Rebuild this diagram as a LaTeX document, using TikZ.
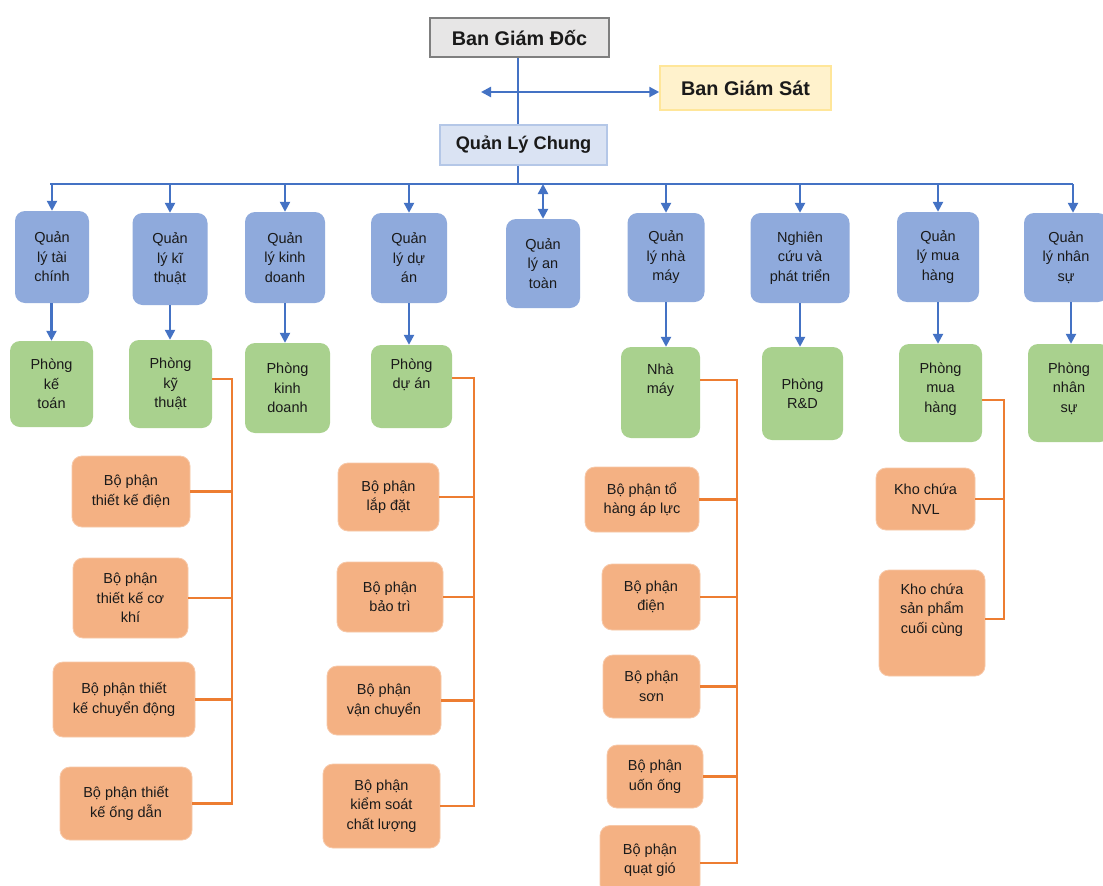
\documentclass[tikz,border=0pt]{standalone}
\usepackage{fontspec}
\setmainfont{Liberation Sans}
\usetikzlibrary{arrows.meta}
\definecolor{bluebox}{HTML}{8FAADC}
\definecolor{greenbox}{HTML}{A9D18E}
\definecolor{orangebox}{HTML}{F4B183}
\definecolor{blueline}{HTML}{4472C4}
\definecolor{orangeline}{HTML}{ED7D31}
\definecolor{txt}{HTML}{1A1A1A}
\definecolor{grayfill}{HTML}{E7E6E6}
\definecolor{grayedge}{HTML}{7F7F7F}
\definecolor{yellowfill}{HTML}{FFF2CC}
\definecolor{yellowedge}{HTML}{FFE699}
\definecolor{lbluefill}{HTML}{DAE3F3}
\definecolor{lblueedge}{HTML}{B4C7E7}
\tikzset{
  box/.style={rounded corners=10pt, align=center, inner sep=2pt, text=txt,
    font=\fontsize{14.5}{19.5}\selectfont},
  bb/.style={box, fill=bluebox},
  gb/.style={box, fill=greenbox},
  ob/.style={box, fill=orangebox, draw=orangebox!70!white, line width=0.8pt},
  topbox/.style={align=center, inner sep=2pt, text=txt, line width=1.5pt,
    font=\fontsize{19.8}{22}\selectfont\bfseries},
  bline/.style={draw=blueline, line width=2.3pt},
  barr/.style={bline, -{Triangle[length=10pt,width=10pt]}},
  bdarr/.style={bline, {Triangle[length=10pt,width=10pt]}-{Triangle[length=10pt,width=10pt]}},
  oline/.style={draw=orangeline, line width=2.3pt},
}
\begin{document}
\begin{tikzpicture}[x=1pt,y=-1pt]
\useasboundingbox[fill=white] (0,0) rectangle (1103,886);

% top
\node[topbox, fill=grayfill, draw=grayedge, minimum width=179pt, minimum height=39pt] (bgd) at (519.5,37.5) {Ban Giám Đốc};
\node[topbox, fill=yellowfill, draw=yellowedge, minimum width=171pt, minimum height=44pt] (bgs) at (745.5,88) {Ban Giám Sát};
\node[topbox, fill=lbluefill, draw=lblueedge, minimum width=167pt, minimum height=40pt, font=\fontsize{18.2}{22}\selectfont\bfseries] (qlc) at (523.5,145) {Quản Lý Chung};
\coordinate (gsL) at (481,92);
\coordinate (busL) at (50,184);
\coordinate (busR) at (1073,184);
\coordinate (busM) at (518,184);

% blue boxes
\node[bb, minimum width=74pt, minimum height=92pt] (b1) at (52,257) {Quản\\lý tài\\chính};
\node[bb, minimum width=75pt, minimum height=92pt] (b2) at (170,259) {Quản\\lý kĩ\\thuật};
\node[bb, minimum width=80pt, minimum height=91pt] (b3) at (285,257.5) {Quản\\lý kinh\\doanh};
\node[bb, minimum width=76pt, minimum height=90pt] (b4) at (409,258) {Quản\\lý dự\\án};
\node[bb, minimum width=74pt, minimum height=89pt] (b5) at (543,263.5) {Quản\\lý an\\toàn};
\node[bb, minimum width=77pt, minimum height=89pt] (b6) at (666,257.5) {Quản\\lý nhà\\máy};
\node[bb, minimum width=99pt, minimum height=90pt] (b7) at (800,258) {Nghiên\\cứu và\\phát triển};
\node[bb, minimum width=82pt, minimum height=90pt] (b8) at (938,257) {Quản\\lý mua\\hàng};
\node[bb, minimum width=84pt, minimum height=89pt] (b9) at (1066,257.5) {Quản\\lý nhân\\sự};

% green boxes
\node[gb, minimum width=83pt, minimum height=86pt] (g1) at (51.5,384) {Phòng\\kế\\toán};
\node[gb, minimum width=83pt, minimum height=88pt] (g2) at (170.5,384) {Phòng\\kỹ\\thuật};
\node[gb, minimum width=85pt, minimum height=90pt] (g3) at (287.5,388) {Phòng\\kinh\\doanh};
\node[gb, minimum width=81pt, minimum height=83pt] (g4) at (411.5,386.5) {Phòng\\dự án\\[6pt]};
\node[gb, minimum width=79pt, minimum height=91pt] (g5) at (660.5,392.5) {Nhà\\máy\\[8pt]};
\node[gb, minimum width=81pt, minimum height=93pt] (g6) at (802.5,393.5) {Phòng\\R\&D};
\node[gb, minimum width=83pt, minimum height=98pt] (g7) at (940.5,393) {Phòng\\mua\\hàng\\[-8pt]};
\node[gb, minimum width=82pt, minimum height=98pt] (g8) at (1069,393) {Phòng\\nhân\\sự\\[-8pt]};

% orange boxes col A
\node[ob, minimum width=118pt, minimum height=71pt] (a1) at (131,491.5) {Bộ phận\\thiết kế điện};
\node[ob, minimum width=115pt, minimum height=80pt] (a2) at (130.5,598) {Bộ phận\\thiết kế cơ\\khí};
\node[ob, minimum width=142pt, minimum height=75pt] (a3) at (124,699.5) {Bộ phận thiết\\kế chuyển động};
\node[ob, minimum width=132pt, minimum height=73pt] (a4) at (126,803.5) {Bộ phận thiết\\kế ống dẫn};
% col B
\node[ob, minimum width=101pt, minimum height=68pt] (c1) at (388.5,497) {Bộ phận\\lắp đặt};
\node[ob, minimum width=106pt, minimum height=70pt] (c2) at (390,597) {Bộ phận\\bảo trì};
\node[ob, minimum width=114pt, minimum height=69pt] (c3) at (384,700.5) {Bộ phận\\vận chuyển};
\node[ob, minimum width=117pt, minimum height=84pt] (c4) at (381.5,806) {Bộ phận\\kiểm soát\\chất lượng};
% col C
\node[ob, minimum width=114pt, minimum height=65pt] (d1) at (642,499.5) {Bộ phận tổ\\hàng áp lực};
\node[ob, minimum width=98pt, minimum height=66pt] (d2) at (651,597) {Bộ phận\\điện};
\node[ob, minimum width=97pt, minimum height=63pt] (d3) at (651.5,686.5) {Bộ phận\\sơn};
\node[ob, minimum width=96pt, minimum height=63pt] (d4) at (655,776.5) {Bộ phận\\uốn ống};
\node[ob, minimum width=100pt, minimum height=69pt] (d5) at (650,860) {Bộ phận\\quạt gió};
% col D
\node[ob, minimum width=99pt, minimum height=62pt] (e1) at (925.5,499) {Kho chứa\\NVL};
\node[ob, minimum width=106pt, minimum height=106pt] (e2) at (932,623) {Kho chứa\\sản phẩm\\cuối cùng\\[10pt]};

% top connectors
\draw[bline] (bgd.south -| busM) -- (qlc.north -| busM);
\draw[bdarr] (gsL) -- (bgs.west |- gsL);
\draw[bline] (qlc.south -| busM) -- (busM);
\draw[bline] (busL) -- (busR);

% bus to blue boxes
\draw[barr] (b1.north |- busL) -- (b1.north);
\draw[barr] (b2.north |- busL) -- (b2.north);
\draw[barr] (b3.north |- busL) -- (b3.north);
\draw[barr] (b4.north |- busL) -- (b4.north);
\draw[bdarr] (b5.north |- busL) -- (b5.north);
\draw[barr] (b6.north |- busL) -- (b6.north);
\draw[barr] (b7.north |- busL) -- (b7.north);
\draw[barr] (b8.north |- busL) -- (b8.north);
\draw[barr] (busR) -- (busR |- b9.north);

% blue to green
\draw[barr] (b1.south -| g1.north) -- (g1.north);
\draw[barr] (b2.south) -- (b2.south |- g2.north);
\draw[barr] (b3.south) -- (b3.south |- g3.north);
\draw[barr] (b4.south) -- (b4.south |- g4.north);
\draw[barr] (b6.south) -- (b6.south |- g5.north);
\draw[barr] (b7.south) -- (b7.south |- g6.north);
\draw[barr] (b8.south) -- (b8.south |- g7.north);
\draw[barr] ([xshift=5pt]b9.south) -- ([xshift=5pt]b9.south |- g8.north);

% orange trunks
\coordinate (tA) at (232,379);
\coordinate (tB) at (474,378);
\coordinate (tC) at (737,380);
\coordinate (tD) at (1004,400);
\draw[oline] (g2.east |- tA) -- (tA) |- (a4.east);
\draw[oline] (a1.east) -- (a1.east -| tA);
\draw[oline] (a2.east) -- (a2.east -| tA);
\draw[oline] (a3.east) -- (a3.east -| tA);

\draw[oline] (g4.east |- tB) -- (tB) |- (c4.east);
\draw[oline] (c1.east) -- (c1.east -| tB);
\draw[oline] (c2.east) -- (c2.east -| tB);
\draw[oline] (c3.east) -- (c3.east -| tB);

\draw[oline] (g5.east |- tC) -- (tC) |- ([yshift=-3pt]d5.east);
\draw[oline] (d1.east) -- (d1.east -| tC);
\draw[oline] (d2.east) -- (d2.east -| tC);
\draw[oline] (d3.east) -- (d3.east -| tC);
\draw[oline] (d4.east) -- (d4.east -| tC);

\draw[oline] (g7.east |- tD) -- (tD) |- ([yshift=4pt]e2.east);
\draw[oline] (e1.east) -- (e1.east -| tD);
\end{tikzpicture}
\end{document}
